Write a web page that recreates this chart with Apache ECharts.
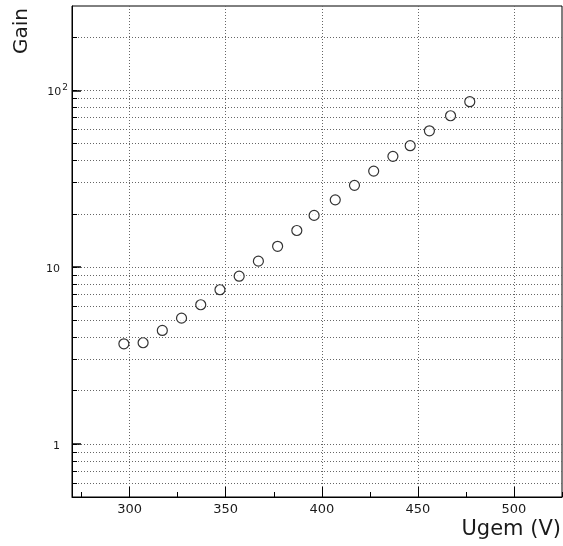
<!DOCTYPE html>
<html>
<head>
<meta charset="utf-8">
<script src="https://cdn.jsdelivr.net/npm/echarts@6/dist/echarts.min.js"></script>
<style>html,body{margin:0;padding:0;background:#fff;}#c{width:563px;height:546px;}</style>
</head>
<body>
<div id="c"></div>
<script>
// Data
const ugem = [297, 307, 317, 327, 337, 347, 357, 367, 377, 387, 396, 407, 417, 427, 437, 446, 456, 467, 477];
const gain = [3.68, 3.73, 4.38, 5.14, 6.12, 7.44, 8.88, 10.8, 13.1, 16.1, 19.6, 24.0, 29.0, 34.9, 42.3, 48.6, 59.0, 71.8, 86.2];

// Axis ticks / labels
const xMajorTicks = [300, 350, 400, 450, 500];
const xMinorTicks = [275, 325, 375, 425, 475, 525];
const yLabelValues = [1, 10, 100];
const yGridValues = [0.6, 0.7, 0.8, 0.9, 1, 2, 3, 4, 5, 6, 7, 8, 9, 10, 20, 30, 40, 50, 60, 70, 80, 90, 100, 200];
const xTitle = 'Ugem (V)';
const yTitle = 'Gain';

const chart = echarts.init(document.getElementById('c'));
const FONT = 'DejaVu Sans';
const TXT = '#1a1a1a';
const dotted = { color: '#666', width: 1, type: [1, 2] };

chart.setOption({
  animation: false,
  backgroundColor: '#fff',
  grid: { left: 72, top: 6, right: 1, bottom: 49, show: true, borderColor: '#000', borderWidth: 1, backgroundColor: 'transparent' },
  xAxis: [
    {
      type: 'value', min: 270, max: 525, position: 'bottom',
      axisLine: { show: true, lineStyle: { color: '#000', width: 1 } },
      axisTick: { show: true, inside: true, length: 10, customValues: xMajorTicks, lineStyle: { color: '#000', width: 1 } },
      axisLabel: { customValues: xMajorTicks, margin: 6, color: TXT, fontFamily: FONT, fontSize: 13 },
      splitLine: { show: true, lineStyle: dotted }
    },
    {
      type: 'value', min: 270, max: 525, position: 'bottom',
      axisLine: { show: false },
      axisTick: { show: true, inside: true, length: 5, customValues: xMinorTicks, lineStyle: { color: '#000', width: 1 } },
      axisLabel: { show: false },
      splitLine: { show: false }
    }
  ],
  yAxis: [
    {
      type: 'log', logBase: 10, min: 0.5, max: 300, position: 'left',
      axisLine: { show: true, lineStyle: { color: '#000', width: 1 } },
      axisTick: { show: true, inside: true, length: 5, customValues: yGridValues, lineStyle: { color: '#000', width: 1 } },
      axisLabel: {
        customValues: yLabelValues, margin: 4, color: TXT, fontFamily: FONT, fontSize: 11,
        formatter: function (v) {
          if (Math.abs(v - 100) < 1e-6) return '{b|10}{s|2}';
          return '{n|' + Math.round(v) + '}';
        },
        rich: {
          n: { fontFamily: FONT, fontSize: 11, color: TXT, padding: [4, 8, 0, 0] },
          b: { fontFamily: FONT, fontSize: 11, color: TXT, padding: [4, 0, 0, 0] },
          s: { fontFamily: FONT, fontSize: 9, color: TXT, padding: [0, 0, 6, 1] }
        }
      },
      splitLine: { show: true, lineStyle: dotted }
    },
    {
      type: 'log', logBase: 10, min: 0.5, max: 300, position: 'left',
      axisLine: { show: false },
      axisTick: { show: true, inside: true, length: 9, customValues: yLabelValues, lineStyle: { color: '#000', width: 1.5 } },
      axisLabel: { show: false },
      splitLine: { show: false }
    }
  ],
  graphic: [
    { type: 'text', x: 22, y: 8, rotation: Math.PI / 2,
      style: { text: yTitle, fontFamily: FONT, fontSize: 20, fill: TXT, align: 'right', verticalAlign: 'middle' } },
    { type: 'text', x: 561, y: 530,
      style: { text: xTitle, fontFamily: FONT, fontSize: 21, fill: TXT, align: 'right', verticalAlign: 'middle' } }
  ],
  series: [
    {
      type: 'scatter', xAxisIndex: 0, yAxisIndex: 0,
      data: ugem.map((x, i) => [x, gain[i]]),
      symbol: 'circle', symbolSize: 10,
      itemStyle: { color: '#fff', borderColor: '#000', borderWidth: 1.2 }
    }
  ]
});
</script>
</body>
</html>
